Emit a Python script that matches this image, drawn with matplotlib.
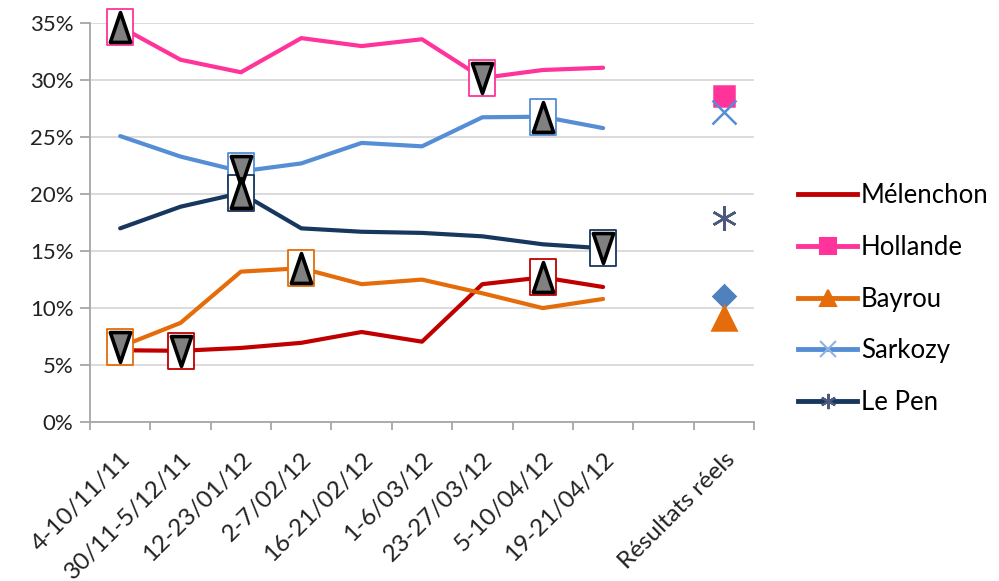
import numpy as np
import matplotlib.pyplot as plt
from matplotlib.path import Path
from matplotlib.lines import Line2D

plt.rcParams['font.family'] = ['Lato', 'DejaVu Sans']

# Poll dates (category labels) and an empty slot before the real results
dates = ['4-10/11/11', '30/11-5/12/11', '12-23/01/12', '2-7/02/12', '16-21/02/12',
         '1-6/03/12', '23-27/03/12', '5-10/04/12', '19-21/04/12']
results_label = 'Résultats réels'

candidates = ['Mélenchon', 'Hollande', 'Bayrou', 'Sarkozy', 'Le Pen']

melenchon = [6.3, 6.25, 6.5, 6.95, 7.9, 7.05, 12.1, 12.7, 11.85]
hollande = [34.7, 31.8, 30.7, 33.7, 33.0, 33.6, 30.2, 30.9, 31.1]
bayrou = [6.6, 8.7, 13.2, 13.5, 12.1, 12.5, 11.3, 10.0, 10.8]
sarkozy = [25.1, 23.3, 22.0, 22.7, 24.5, 24.2, 26.75, 26.8, 25.8]
le_pen = [17.0, 18.9, 20.1, 17.0, 16.7, 16.6, 16.3, 15.6, 15.25]

# actual first-round results
results = [11.10, 28.63, 9.13, 27.18, 17.90]

# highlighted extremes: (index of max, index of min) per candidate
max_idx = [7, 0, 3, 7, 2]
min_idx = [1, 6, 0, 2, 8]

colors = ['#C00000', '#FF3399', '#E46C0A', '#558ED5', '#17375E']
result_colors = ['#4F81BD', '#FF3399', '#E46C0A', '#558ED5', '#4A5A7A']
result_markers = ['D', 's', '^', 'x', (6, 2, 0)]
result_sizes = [11, 15, 17, 17, 18]
legend_markers = [None, 's', '^', 'x', (6, 2, 0)]
legend_mcolors = [None, '#FF3399', '#E46C0A', '#8DB3E2', '#4A5A7A']

series = [melenchon, hollande, bayrou, sarkozy, le_pen]

rect = Path([(-0.35, -0.5), (0.35, -0.5), (0.35, 0.5), (-0.35, 0.5), (-0.35, -0.5)],
            [Path.MOVETO, Path.LINETO, Path.LINETO, Path.LINETO, Path.CLOSEPOLY])
tri_up = Path([(0, 0.5), (-0.34, -0.5), (0.34, -0.5), (0, 0.5)],
              [Path.MOVETO, Path.LINETO, Path.LINETO, Path.CLOSEPOLY])
tri_down = Path([(0, -0.5), (-0.34, 0.5), (0.34, 0.5), (0, -0.5)],
                [Path.MOVETO, Path.LINETO, Path.LINETO, Path.CLOSEPOLY])

fig = plt.figure(figsize=(9.99, 5.81), dpi=100)
ax = fig.add_axes([90 / 999, 1 - 422 / 581, (754 - 90) / 999, (422 - 23.3) / 581])

x = np.arange(len(dates))
x_res = len(dates) + 1

for i, vals in enumerate(series):
    ax.plot(x, vals, color=colors[i], lw=3, solid_capstyle='round', zorder=3, clip_on=False)

# results markers
for i, r in enumerate(results):
    ax.plot([x_res], [r], linestyle='none', marker=result_markers[i], ms=result_sizes[i],
            color=result_colors[i], mec=result_colors[i], mew=1.8, zorder=4, clip_on=False)

# extreme markers: boxes then triangles
for i, vals in enumerate(series):
    for idx, tri in [(max_idx[i], tri_up), (min_idx[i], tri_down)]:
        ax.plot([x[idx]], [vals[idx]], linestyle='none', marker=rect, ms=26.6,
                mfc='white', mec=colors[i], mew=1.3, zorder=5, clip_on=False)
        ax.plot([x[idx]], [vals[idx]], linestyle='none', marker=tri, ms=21.5,
                mfc='#808080', mec='black', mew=2.6, zorder=6, clip_on=False)

ax.set_xlim(-0.5, x_res + 0.5)
ax.set_ylim(0, 35)
ax.set_yticks(np.arange(0, 36, 5))
ax.set_yticklabels([f'{v}%' for v in range(0, 36, 5)])
ax.yaxis.grid(True, color='#D9D9D9', lw=1.3)
ax.set_axisbelow(True)

ax.set_xticks(list(x) + [x_res])
ax.set_xticklabels(dates + [results_label], rotation=45, ha='right',
                   rotation_mode='anchor', fontsize=17.5, color='#222222')
ax.set_xticks(np.arange(-0.5, x_res + 1, 1), minor=True)
ax.tick_params(axis='x', which='major', length=0, pad=19)
ax.tick_params(axis='x', which='minor', length=6, color='#A6A6A6', width=1.3)
ax.tick_params(axis='y', length=7, color='#A6A6A6', width=1.3, labelsize=16,
               labelcolor='#222222', pad=5)

for s in ['top', 'right']:
    ax.spines[s].set_visible(False)
for s in ['left', 'bottom']:
    ax.spines[s].set_color('#A6A6A6')
    ax.spines[s].set_linewidth(1.3)

handles = [Line2D([], [], color=colors[i], lw=3.5, marker=legend_markers[i], ms=11,
                  mfc=legend_mcolors[i], mec=legend_mcolors[i], mew=1.5)
           for i in range(len(candidates))]
fig.legend(handles, candidates, loc='center left', bbox_to_anchor=(775 / 999, 1 - 299 / 581),
           frameon=False, fontsize=18.5, handlelength=2.3, handletextpad=0.15,
           labelspacing=1.05)

fig.savefig('out.png', dpi=100)
